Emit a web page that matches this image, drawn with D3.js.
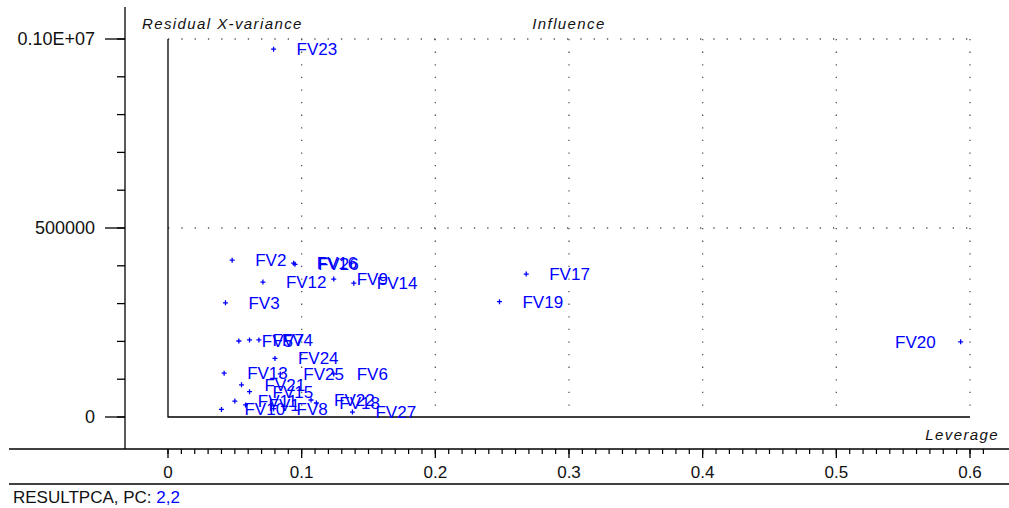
<!DOCTYPE html>
<html>
<head>
<meta charset="utf-8">
<script src="https://cdn.jsdelivr.net/npm/d3@7"></script>
<style>
  html, body { margin: 0; padding: 0; background: #ffffff; }
  svg { display: block; font-family: Arial, "Liberation Sans", sans-serif; }
</style>
</head>
<body>
<svg id="chart" width="1009" height="508"></svg>
<script>
// Influence plot: residual X-variance against leverage, one point per sample
const sampleNames = ["FV23","FV2","FV16","FV26","FV12","FV9","FV14","FV3","FV17","FV19",
  "FV20","FV5","FV7","FV4","FV24","FV13","FV25","FV6","FV21","FV15",
  "FV11","FV1","FV10","FV8","FV22","FV18","FV27"];
const leverage = [0.079,0.048,0.094,0.095,0.071,0.124,0.139,0.043,0.268,0.248,
  0.593,0.053,0.061,0.068,0.080,0.042,0.084,0.124,0.055,0.061,
  0.050,0.058,0.040,0.079,0.107,0.111,0.138];
const residualVar = [973000,415000,407000,404000,357000,365000,354000,302000,378000,305000,
  199000,201000,204000,204000,155000,116000,114000,114000,85000,67000,
  42000,32000,20000,22000,45000,37000,13000];
const labelLeft = ["FV20"];  // names drawn to the left of their point

const xTickValues = [0, 0.1, 0.2, 0.3, 0.4, 0.5, 0.6];
const xTickLabels = ["0", "0.1", "0.2", "0.3", "0.4", "0.5", "0.6"];
const yTickValues = [0, 500000, 1000000];
const yTickLabels = ["0", "500000", "0.10E+07"];

const svg = d3.select("#chart");
const blue = "#0000ff";
const dotGrey = "#555";

const x = d3.scaleLinear().domain([0, 0.6]).range([168, 970]);
const y = d3.scaleLinear().domain([0, 1000000]).range([417, 39]);

// Outer axis lines
svg.append("line").attr("x1", 125).attr("x2", 125).attr("y1", 7).attr("y2", 449)
  .attr("stroke", "#000").attr("stroke-width", 1.3);
svg.append("line").attr("x1", 9).attr("x2", 1009).attr("y1", 449).attr("y2", 449)
  .attr("stroke", "#000").attr("stroke-width", 1.3);
svg.append("line").attr("x1", 9).attr("x2", 1009).attr("y1", 484).attr("y2", 484)
  .attr("stroke", "#000").attr("stroke-width", 1.3);

// Y axis ticks (major + minor every 100000), drawn to the left of x=125
const yAxis = svg.append("g").attr("transform", "translate(125,0)");
yAxis.selectAll("line.minor").data(d3.range(0, 1000001, 100000)).join("line")
  .attr("x1", -8).attr("x2", 0)
  .attr("y1", d => y(d)).attr("y2", d => y(d))
  .attr("stroke", "#000").attr("stroke-width", 1.3);
yAxis.selectAll("line.major").data(yTickValues).join("line")
  .attr("x1", -20).attr("x2", 0)
  .attr("y1", d => y(d)).attr("y2", d => y(d))
  .attr("stroke", "#000").attr("stroke-width", 1.3);
yAxis.selectAll("text").data(yTickValues).join("text")
  .attr("x", -30).attr("y", d => y(d) + 6)
  .attr("text-anchor", "end")
  .attr("font-size", 18).attr("fill", "#111")
  .text((d, i) => yTickLabels[i]);

// X axis ticks hanging below the line at y=449
const xAxis = svg.append("g").attr("transform", "translate(0,449)");
xAxis.selectAll("line.minor").data(d3.range(0, 62).map(i => i / 100)).join("line")
  .attr("x1", d => x(d)).attr("x2", d => x(d))
  .attr("y1", 0).attr("y2", 5)
  .attr("stroke", "#000").attr("stroke-width", 1.2);
xAxis.selectAll("line.major").data(xTickValues).join("line")
  .attr("x1", d => x(d)).attr("x2", d => x(d))
  .attr("y1", 0).attr("y2", 9)
  .attr("stroke", "#000").attr("stroke-width", 1.3);
xAxis.selectAll("text").data(xTickValues).join("text")
  .attr("x", d => x(d)).attr("y", 29)
  .attr("text-anchor", "middle")
  .attr("font-size", 17).attr("fill", "#111")
  .text((d, i) => xTickLabels[i]);

// Dotted reference grid
const grid = svg.append("g");
grid.selectAll("line.v").data(xTickValues.slice(1)).join("line")
  .attr("x1", d => x(d)).attr("x2", d => x(d))
  .attr("y1", y(1000000)).attr("y2", y(0))
  .attr("stroke", dotGrey).attr("stroke-width", 1.3)
  .attr("stroke-dasharray", "1.3,11.3");
grid.selectAll("line.h").data([500000, 1000000]).join("line")
  .attr("x1", x(0)).attr("x2", x(0.6))
  .attr("y1", d => y(d)).attr("y2", d => y(d))
  .attr("stroke", dotGrey).attr("stroke-width", 1.3)
  .attr("stroke-dasharray", "1.3,12");

// Inner frame at the origin
svg.append("path")
  .attr("d", `M${x(0)},${y(1000000)}V${y(0)}H${x(0.6)}`)
  .attr("fill", "none").attr("stroke", "#000").attr("stroke-width", 1.3);

// Titles
svg.append("text").attr("x", 142).attr("y", 29)
  .attr("font-size", 15).attr("font-style", "italic").attr("letter-spacing", 1.4)
  .attr("fill", "#111").text("Residual X-variance");
svg.append("text").attr("x", x(0.3)).attr("y", 29).attr("text-anchor", "middle")
  .attr("font-size", 15).attr("font-style", "italic").attr("letter-spacing", 1.4)
  .attr("fill", "#111").text("Influence");
svg.append("text").attr("x", 999).attr("y", 440).attr("text-anchor", "end")
  .attr("font-size", 15).attr("font-style", "italic").attr("letter-spacing", 1.4)
  .attr("fill", "#111").text("Leverage");

// Footer
const foot = svg.append("text").attr("x", 13).attr("y", 503).attr("font-size", 17).attr("fill", "#111");
foot.append("tspan").text("RESULTPCA, PC: ");
foot.append("tspan").attr("fill", blue).text("2,2");

// Points and their names
const pts = sampleNames.map((n, i) => ({ name: n, lev: leverage[i], res: residualVar[i] }));
const pg = svg.append("g");
pg.selectAll("path.pt").data(pts).join("path")
  .attr("d", d => `M${x(d.lev) - 2.5},${y(d.res)}h5M${x(d.lev)},${y(d.res) - 2.5}v5`)
  .attr("stroke", blue).attr("stroke-width", 1.3).attr("fill", "none");
pg.selectAll("text").data(pts).join("text")
  .attr("x", d => labelLeft.includes(d.name) ? x(d.lev) - 25 : x(d.lev) + 23)
  .attr("y", d => y(d.res) + 6)
  .attr("text-anchor", d => labelLeft.includes(d.name) ? "end" : "start")
  .attr("font-size", 17).attr("fill", blue)
  .text(d => d.name);
</script>
</body>
</html>
